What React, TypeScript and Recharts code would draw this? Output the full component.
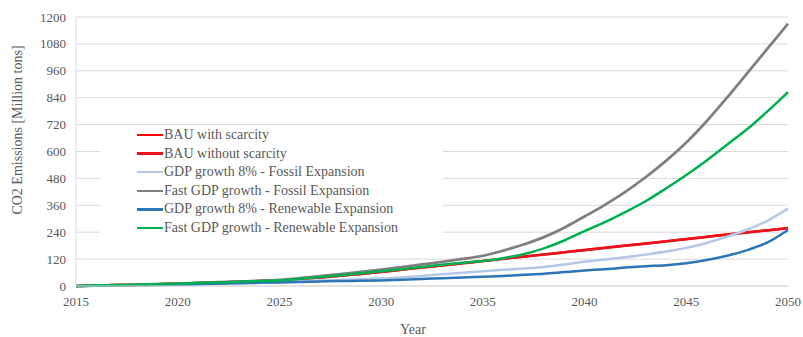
import React from "react";
import { LineChart, Line, XAxis, YAxis, CartesianGrid } from "recharts";

const years = [2015, 2016, 2017, 2018, 2019, 2020, 2021, 2022, 2023, 2024, 2025, 2026, 2027, 2028, 2029, 2030, 2031, 2032, 2033, 2034, 2035, 2036, 2037, 2038, 2039, 2040, 2041, 2042, 2043, 2044, 2045, 2046, 2047, 2048, 2049, 2050];

const bauWithScarcity = [0, 2, 4, 6, 8, 10, 13, 16, 19, 22, 25, 31, 38, 46, 54, 63, 73, 83, 92, 102, 112, 122, 132, 141, 151, 161, 171, 181, 190, 200, 210, 220, 230, 240, 249, 259];
const bauWithoutScarcity = [0, 2, 4, 6, 8, 10, 13, 16, 19, 22, 25, 31, 38, 46, 54, 62, 72, 82, 91, 101, 111, 121, 131, 140, 150, 160, 170, 180, 189, 199, 209, 219, 229, 239, 248, 258];
const gdp8Fossil = [0, 1, 3, 4, 6, 7, 9, 11, 13, 15, 18, 21, 24, 27, 30, 33, 38, 45, 52, 59, 66, 72, 78, 85, 96, 108, 118, 128, 140, 154, 170, 192, 220, 252, 292, 346];
const fastFossil = [0, 2, 4, 6, 8, 11, 14, 17, 20, 23, 27, 35, 44, 53, 63, 73, 84, 96, 108, 121, 135, 158, 185, 218, 260, 310, 362, 420, 485, 558, 640, 735, 840, 950, 1060, 1170];
const gdp8Renew = [0, 1, 2, 3, 4, 6, 8, 10, 12, 14, 16, 18, 20, 22, 23, 25, 28, 31, 35, 38, 41, 45, 50, 55, 62, 69, 75, 82, 88, 93, 102, 116, 135, 160, 195, 250];
const fastRenew = [0, 2, 4, 6, 8, 10, 13, 16, 19, 22, 25, 32, 40, 48, 57, 66, 75, 85, 95, 104, 112, 124, 142, 168, 203, 245, 285, 330, 378, 435, 495, 560, 630, 700, 780, 865];

const xTicks = [2015, 2020, 2025, 2030, 2035, 2040, 2045, 2050];
const yTicks = [0, 120, 240, 360, 480, 600, 720, 840, 960, 1080, 1200];

const seriesDefs = [
  { key: "bauWith", name: "BAU with scarcity", values: bauWithScarcity, color: "#FF0000", width: 2.5 },
  { key: "bauWithout", name: "BAU without scarcity", values: bauWithoutScarcity, color: "#E8141C", width: 2.5 },
  { key: "gdp8Fossil", name: "GDP growth 8% - Fossil Expansion", values: gdp8Fossil, color: "#B4C7E7", width: 2.5 },
  { key: "fastFossil", name: "Fast GDP growth - Fossil Expansion", values: fastFossil, color: "#7F7F7F", width: 2.75 },
  { key: "gdp8Renew", name: "GDP growth 8% - Renewable Expansion", values: gdp8Renew, color: "#2E75B6", width: 2.5 },
  { key: "fastRenew", name: "Fast GDP growth - Renewable Expansion", values: fastRenew, color: "#00B050", width: 2.5 },
];

const data = years.map((y, i) => {
  const row: Record<string, number> = { year: y };
  seriesDefs.forEach((s) => {
    row[s.key] = s.values[i];
  });
  return row;
});

const FONT = "'Liberation Serif', 'Times New Roman', serif";
const TEXT = "#595959";

const renderXTick = (props: any) => {
  const { x, y, payload } = props;
  return (
    <g key={`xt-${payload.value}`}>
      <text x={x} y={y + 10} fill={TEXT} fontSize={13} fontFamily="Liberation Serif" textAnchor="middle">
        {String(payload.value)}
      </text>
    </g>
  );
};

const renderYTick = (props: any) => {
  const { x, y, payload } = props;
  return (
    <g key={`yt-${payload.value}`}>
      <text x={x} y={y + 4.5} fill={TEXT} fontSize={13} fontFamily="Liberation Serif" textAnchor="end">
        {String(payload.value)}
      </text>
    </g>
  );
};

const LegendBox = () => (
  <div
    style={{
      position: "absolute",
      left: 100,
      top: 125,
      width: 343,
      height: 114,
      background: "#FFFFFF",
      fontFamily: FONT,
    }}
  >
    {seriesDefs.map((s, i) => (
      <div
        key={s.key}
        style={{ position: "absolute", left: 37, top: 1 + i * 18.6, height: 18, display: "flex", alignItems: "center" }}
      >
        <div style={{ width: 26, height: 2.5, background: s.color }} />
        <span style={{ fontSize: 14, color: TEXT, marginLeft: 1, whiteSpace: "nowrap", lineHeight: "18px" }}>{s.name}</span>
      </div>
    ))}
  </div>
);

export default function App() {
  return (
    <div style={{ position: "absolute", left: 0, top: 0, width: 803, height: 337, background: "#FFFFFF", fontFamily: FONT }}>
      <LineChart width={803} height={337} data={data} margin={{ top: 17, right: 15, left: 0, bottom: 21 }}>
        <CartesianGrid horizontal={true} vertical={false} stroke="#D9D9D9" strokeWidth={1} />
        <XAxis
          dataKey="year"
          type="number"
          domain={[2015, 2050]}
          ticks={xTicks}
          tickLine={false}
          axisLine={{ stroke: "#D9D9D9" }}
          height={30}
          tickMargin={4}
          tick={renderXTick}
          interval={0}
          label={() => (
            <text x={413} y={334} fill={TEXT} fontSize={14} fontFamily="Liberation Serif" textAnchor="middle">
              Year
            </text>
          )}
        />
        <YAxis
          type="number"
          domain={[0, 1200]}
          ticks={yTicks}
          width={76}
          tickLine={false}
          axisLine={{ stroke: "#D9D9D9" }}
          tickMargin={4}
          tick={renderYTick}
          interval={0}
          label={() => (
            <text
              x={22}
              y={130}
              fill={TEXT}
              fontSize={14}
              fontFamily="Liberation Serif"
              textAnchor="middle"
              transform="rotate(-90, 22, 130)"
            >
              CO2 Emissions [Million tons]
            </text>
          )}
        />
        {seriesDefs.map((s) => (
          <Line
            key={s.key}
            dataKey={s.key}
            name={s.name}
            stroke={s.color}
            strokeWidth={s.width}
            dot={false}
            activeDot={false}
            type="monotone"
            isAnimationActive={false}
          />
        ))}
      </LineChart>
      <LegendBox />
    </div>
  );
}
